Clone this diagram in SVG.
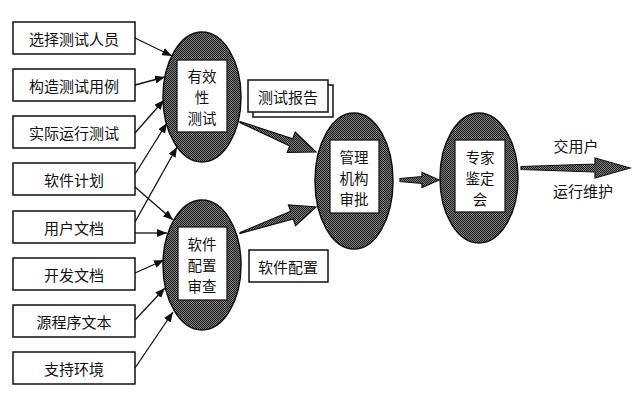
<svg xmlns="http://www.w3.org/2000/svg" width="640" height="402" viewBox="0 0 640 402">
<style>
text{font-family:"Noto Sans CJK SC","Noto Sans CJK JP",sans-serif;fill:#111;text-anchor:middle;dominant-baseline:central}
.box{fill:#fff;stroke:#111;stroke-width:1.5}
.ell{fill:url(#hatch);stroke:#111;stroke-width:1.5}
.inner{fill:#fff;stroke:#111;stroke-width:1.2}
.t15{font-size:15px}
.t14{font-size:14.5px}
.ln{stroke:#111;stroke-width:1.3;fill:none;marker-end:url(#ah)}
.big{fill:url(#hatch);stroke:#111;stroke-width:1.2}
</style>
<defs>
<pattern id="hatch" width="2" height="2" patternUnits="userSpaceOnUse">
<rect width="2" height="2" fill="#808080"/>
<rect width="1" height="1" fill="#1a1a1a"/>
<rect x="1" y="1" width="1" height="1" fill="#1a1a1a"/>
</pattern>
<marker id="ah" viewBox="0 0 10 8" refX="10" refY="4" markerWidth="10" markerHeight="8" markerUnits="userSpaceOnUse" orient="auto">
<path d="M0,0 L10,4 L0,8 Z" fill="#111"/>
</marker>
</defs>

<g id="connectors">
<line class="ln" x1="135" y1="38" x2="172" y2="56"/>
<line class="ln" x1="135" y1="85" x2="165" y2="77"/>
<line class="ln" x1="135" y1="133" x2="164" y2="100"/>
<line class="ln" x1="135" y1="174" x2="167" y2="123"/>
<line class="ln" x1="135" y1="222" x2="177" y2="147"/>
<line class="ln" x1="135" y1="187" x2="173" y2="220"/>
<line class="ln" x1="135" y1="233" x2="167" y2="233"/>
<line class="ln" x1="135" y1="273" x2="164" y2="260"/>
<line class="ln" x1="135" y1="320" x2="165" y2="288"/>
<line class="ln" x1="135" y1="368" x2="173" y2="312"/>
<polygon class="big" points="240,121.5 292.7,138.7 295.2,132 316,152 287.2,152.4 289.7,145.9 240,122.5"/>
<polygon class="big" points="240,232.5 290.7,211.4 288.4,204.8 316,207 295.6,225.6 293.3,219 240,233.5"/>
<polygon class="big" points="400,178.5 422,176.5 422,172.5 439,180 422,187.5 422,183.5 400,181.5"/>
<polygon class="big" points="521,166.5 595,164 595,158 630,168 595,178 595,172 521,169.5"/>
</g>

<g id="n1"><rect class="box" x="13" y="22" width="122" height="32"/><text class="t15" x="74" y="38">选择测试人员</text></g>
<g id="n2"><rect class="box" x="13" y="69" width="122" height="32"/><text class="t15" x="74" y="85">构造测试用例</text></g>
<g id="n3"><rect class="box" x="13" y="116" width="122" height="32"/><text class="t15" x="74" y="132">实际运行测试</text></g>
<g id="n4"><rect class="box" x="13" y="163" width="122" height="32"/><text class="t15" x="74" y="179">软件计划</text></g>
<g id="n5"><rect class="box" x="13" y="211" width="122" height="32"/><text class="t15" x="74" y="227">用户文档</text></g>
<g id="n6"><rect class="box" x="13" y="258" width="122" height="32"/><text class="t15" x="74" y="274">开发文档</text></g>
<g id="n7"><rect class="box" x="13" y="305" width="122" height="32"/><text class="t15" x="74" y="321">源程序文本</text></g>
<g id="n8"><rect class="box" x="13" y="352" width="122" height="32"/><text class="t15" x="74" y="368">支持环境</text></g>

<g id="e1"><ellipse class="ell" cx="202" cy="97" rx="39" ry="65"/><rect class="inner" x="177" y="60" width="50" height="72"/>
<text class="t14" x="202" y="75"><tspan x="202" y="75">有效</tspan><tspan x="202" y="96">性</tspan><tspan x="202" y="117">测试</tspan></text></g>

<g id="e2"><ellipse class="ell" cx="202" cy="265" rx="39" ry="65"/><rect class="inner" x="178" y="227" width="49" height="73"/>
<text class="t14" x="202" y="243"><tspan x="202" y="243">软件</tspan><tspan x="202" y="264">配置</tspan><tspan x="202" y="285">审查</tspan></text></g>

<g id="e3"><ellipse class="ell" cx="354" cy="181" rx="39" ry="68"/><rect class="inner" x="330" y="140" width="49" height="73"/>
<text class="t14" x="354" y="156"><tspan x="354" y="156">管理</tspan><tspan x="354" y="177">机构</tspan><tspan x="354" y="198">审批</tspan></text></g>

<g id="e4"><ellipse class="ell" cx="479" cy="178" rx="39" ry="65"/><rect class="inner" x="455" y="140" width="50" height="72"/>
<text class="t14" x="480" y="156"><tspan x="480" y="156">专家</tspan><tspan x="480" y="177">鉴定</tspan><tspan x="480" y="198">会</tspan></text></g>

<g id="report"><rect class="box" x="253" y="85" width="80" height="32"/><rect class="box" x="248" y="80" width="80" height="32"/><text class="t15" x="288" y="96">测试报告</text></g>
<g id="config"><rect class="box" x="249" y="250" width="79" height="32"/><text class="t15" x="288" y="266">软件配置</text></g>
<g id="out"><text class="t15" x="576" y="145">交用户</text><text class="t15" x="583" y="190">运行维护</text></g>
</svg>
